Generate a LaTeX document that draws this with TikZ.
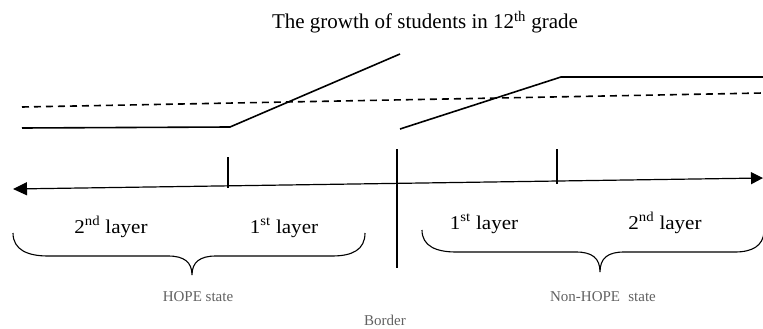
\documentclass[tikz,border=0pt]{standalone}
\usepackage{fontspec}
\setmainfont{Liberation Serif}
\usepackage{graphicx}
\usetikzlibrary{arrows.meta}
\newcommand\widetxt[1]{\scalebox{1.08}[1]{#1}}
\tikzset{
  curve/.style={line width=1.6pt},
  dashcurve/.style={line width=1.6pt, dash pattern=on 7pt off 5pt},
  axisline/.style={line width=1.2pt},
  tickline/.style={line width=1.1pt},
  bracestyle/.style={line width=1.1pt},
  bigtxt/.style={inner sep=0pt, anchor=base, font=\fontsize{19.5}{22}\selectfont},
  titletxt/.style={inner sep=0pt, anchor=base, font=\fontsize{21}{24}\selectfont},
  smalltxt/.style={inner sep=0pt, text=black!62, font=\fontsize{15}{17}\selectfont},
}
\begin{document}
\begin{tikzpicture}[x=1pt,y=-1pt]
\useasboundingbox (0,0) rectangle (763,329);
% title
\node[titletxt] (title) at (425,29) {The growth of students in 12\textsuperscript{th} grade};
% growth lines
\coordinate (L0) at (22,128);
\coordinate (L1) at (230,127);
\coordinate (L2) at (400,54);
\coordinate (R0) at (400,129);
\coordinate (R1) at (561,77);
\coordinate (R2) at (763,77);
\coordinate (D0) at (22,107);
\coordinate (D1) at (763,93);
\draw[curve] (L0) -- (L1) -- (L2);
\draw[curve] (R0) -- (R1) -- (R2);
\draw[dashcurve] (D0) -- (D1);
% axis
\coordinate (A0) at (13,189);
\coordinate (A1) at (763,178);
\draw[axisline, {Triangle[length=14pt,width=13pt]}-{Triangle[length=12pt,width=12pt]}] (A0) -- (A1);
% ticks and border
\coordinate (T1a) at (228,157); \coordinate (T1b) at (228,188);
\coordinate (T2a) at (557,149); \coordinate (T2b) at (557,184);
\coordinate (Ba) at (397,149); \coordinate (Bb) at (397,268);
\draw[tickline] (T1a) -- (T1b);
\draw[tickline] (T2a) -- (T2b);
\draw[tickline] (Ba) -- (Bb);
% left brace
\draw[bracestyle] (13,233) .. controls (13,250) and (28,256) .. (48,256)
  -- (168,256) .. controls (184,256) and (192,262) .. (192,275)
  .. controls (192,262) and (200,256) .. (216,256)
  -- (332,256) .. controls (352,256) and (365,250) .. (365,233);
% right brace
\draw[bracestyle] (422,230) .. controls (422,246) and (436,252) .. (456,252)
  -- (576,252) .. controls (592,252) and (600,258) .. (600,272)
  .. controls (600,258) and (608,252) .. (624,252)
  -- (735,252) .. controls (752,252) and (763,246) .. (764,232);
% layer labels
\node[bigtxt] (l2a) at (111,233) {\widetxt{2\textsuperscript{nd} layer}};
\node[bigtxt] (l1a) at (284,233) {\widetxt{1\textsuperscript{st} layer}};
\node[bigtxt] (l1b) at (484,229) {\widetxt{1\textsuperscript{st} layer}};
\node[bigtxt] (l2b) at (665,229) {\widetxt{2\textsuperscript{nd} layer}};
% state labels
\node[smalltxt] (hope) at (198,297) {HOPE state};
\node[smalltxt] (nonhope) at (603,297) {Non-HOPE\hspace{0.3em} state};
\node[smalltxt] (border) at (385,320) {Border};
\end{tikzpicture}
\end{document}
